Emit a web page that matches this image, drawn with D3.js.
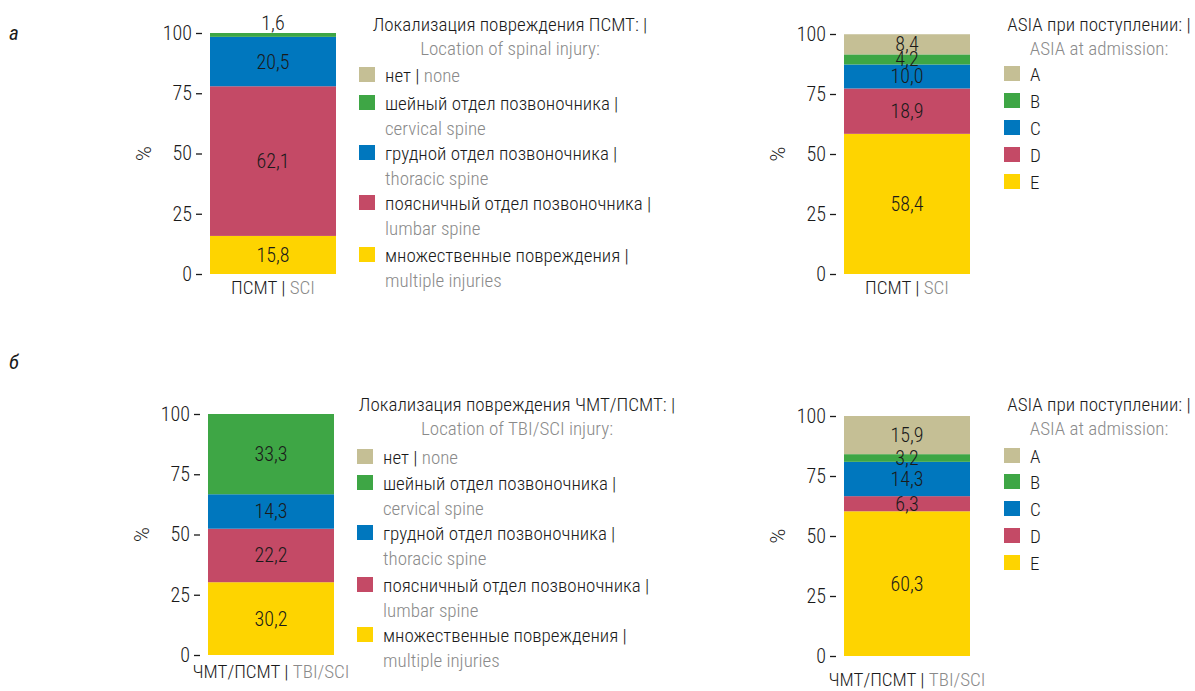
<!DOCTYPE html>
<html lang="ru">
<head>
  <meta charset="UTF-8">
  <title>Stacked bars</title>
  <script src="https://cdn.jsdelivr.net/npm/d3@7"></script>
  <style>
    body { margin: 0; background: #fff; }
    svg { font-family: "Roboto Condensed", "Liberation Sans Narrow", "DejaVu Sans Condensed", sans-serif; font-weight: 300; }
    .tick text { font-size: 20px; fill: #1a1a1a; }
    .tick line { stroke: #1a1a1a; stroke-width: 1.3; }
  </style>
</head>
<body>
<script>
  // Data
  var locRu = ["нет", "шейный отдел позвоночника", "грудной отдел позвоночника", "поясничный отдел позвоночника", "множественные повреждения"];
  var locEn = ["none", "cervical spine", "thoracic spine", "lumbar spine", "multiple injuries"];
  var asiaGrades = ["A", "B", "C", "D", "E"];
  var locSci = [0, 1.6, 20.5, 62.1, 15.8];
  var locTbiSci = [0, 33.3, 14.3, 22.2, 30.2];
  var asiaSci = [8.4, 4.2, 10.0, 18.9, 58.4];
  var asiaTbiSci = [15.9, 3.2, 14.3, 6.3, 60.3];
  var yTicks = [0, 25, 50, 75, 100];

  var colors = ["#c5bf95", "#3ea645", "#0077be", "#c44a66", "#fed400"];
  var ink = "#1a1a1a", grey = "#8a8a8a";
  var fs = "19px";

  var w = 1195, h = 691;
  var svg = d3.select("body").append("svg").attr("width", w).attr("height", h);

  // panel letters
  svg.append("text").attr("x", 9).attr("y", 40).style("font-style", "italic").style("font-weight", 400).style("font-size", "21px").attr("fill", ink).text("а");
  svg.append("text").attr("x", 9).attr("y", 369).style("font-style", "italic").style("font-weight", 400).style("font-size", "21px").attr("fill", ink).text("б");

  function drawBar(p) {
    var g = svg.append("g");
    var y = d3.scaleLinear().domain([0, 100]).range([p.y0, p.y1]);
    var x = d3.scaleBand().domain([p.cat]).range([p.x0, p.x0 + 126]).padding(0);

    // stack bottom-up: last category at bottom
    var order = d3.range(p.values.length).reverse();
    var acc = 0;
    var segs = order.map(function(i) {
      var s = { i: i, v: p.values[i], lo: acc, hi: acc + p.values[i] };
      acc += p.values[i];
      return s;
    }).filter(function(s) { return s.v > 0; });

    g.selectAll("rect").data(segs).enter().append("rect")
      .attr("x", x(p.cat))
      .attr("width", x.bandwidth())
      .attr("y", function(d) { return y(d.hi); })
      .attr("height", function(d) { return y(d.lo) - y(d.hi); })
      .attr("fill", function(d) { return colors[d.i]; });

    g.selectAll("text.val").data(segs).enter().append("text")
      .attr("class", "val")
      .attr("x", x(p.cat) + x.bandwidth() / 2)
      .attr("y", function(d) {
        if (d.v < 2) return y(d.hi) - 10;
        return (y(d.lo) + y(d.hi)) / 2;
      })
      .attr("dy", "0.35em")
      .attr("text-anchor", "middle")
      .style("font-size", "20px")
      .attr("fill", ink)
      .text(function(d) { return d3.format(".1f")(d.v).replace(".", ","); });

    var axis = d3.axisLeft(y).tickValues(yTicks).tickSize(6).tickPadding(4);
    g.append("g")
      .attr("transform", "translate(" + (p.x0 - 8) + ",0)")
      .call(axis)
      .attr("font-family", null)
      .attr("font-size", null)
      .call(function(s) { s.select(".domain").remove(); });

    g.append("text")
      .attr("transform", "translate(" + (p.x0 - 66) + "," + y(50) + ") rotate(-90)")
      .attr("text-anchor", "middle")
      .attr("dy", "0.35em")
      .style("font-size", "20px")
      .style("font-family", "Roboto, sans-serif")
      .attr("fill", ink)
      .text("%");

    var cl = g.append("text")
      .attr("x", p.x0 + 63)
      .attr("y", p.catY)
      .attr("text-anchor", "middle")
      .style("font-size", fs);
    cl.append("tspan").attr("fill", ink).text(p.cat + " | ");
    cl.append("tspan").attr("fill", grey).text(p.catEn);
  }

  function drawLegend(p) {
    var g = svg.append("g");
    g.append("text").attr("x", p.cx).attr("y", p.ty).attr("text-anchor", "middle")
      .style("font-size", fs).attr("fill", ink).text(p.title);
    g.append("text").attr("x", p.cx).attr("y", p.ty + 24).attr("text-anchor", "middle")
      .style("font-size", fs).attr("fill", grey).text(p.titleEn);

    p.rows.forEach(function(r, i) {
      var yy = p.rowY[i];
      g.append("rect").attr("x", p.sx).attr("y", yy - 8).attr("width", 16).attr("height", 15).attr("fill", colors[i]);
      var t = g.append("text").attr("x", p.sx + 26).attr("y", yy).attr("dy", "0.35em").style("font-size", fs);
      if (r.en == null) {
        t.append("tspan").attr("fill", ink).text(r.ru);
      } else if (r.inline) {
        t.append("tspan").attr("fill", ink).text(r.ru + " | ");
        t.append("tspan").attr("fill", grey).text(r.en);
      } else {
        t.append("tspan").attr("fill", ink).text(r.ru + " |");
        g.append("text").attr("x", p.sx + 26).attr("y", yy + 25).attr("dy", "0.35em")
          .style("font-size", fs).attr("fill", grey).text(r.en);
      }
    });
  }

  var locRows = locRu.map(function(ru, i) { return { ru: ru, en: locEn[i], inline: i === 0 }; });
  var asiaRows = asiaGrades.map(function(a) { return { ru: a, en: null }; });

  // panel a
  drawBar({ cat: "ПСМТ", catEn: "SCI", values: locSci, x0: 210, y0: 274, y1: 33, catY: 294 });
  drawLegend({ title: "Локализация повреждения ПСМТ: |", titleEn: "Location of spinal injury:", cx: 510, ty: 31,
    sx: 359, rowY: [75, 103, 153, 203, 255], rows: locRows });
  drawBar({ cat: "ПСМТ", catEn: "SCI", values: asiaSci, x0: 844, y0: 274, y1: 34, catY: 294 });
  drawLegend({ title: "ASIA при поступлении: |", titleEn: "ASIA at admission:", cx: 1099, ty: 31,
    sx: 1004, rowY: [74, 101, 128, 155, 182], rows: asiaRows });

  // panel b
  drawBar({ cat: "ЧМТ/ПСМТ", catEn: "TBI/SCI", values: locTbiSci, x0: 208, y0: 655, y1: 414, catY: 678 });
  drawLegend({ title: "Локализация повреждения ЧМТ/ПСМТ: |", titleEn: "Location of TBI/SCI injury:", cx: 517, ty: 411,
    sx: 357, rowY: [457, 483, 533, 585, 635], rows: locRows });
  drawBar({ cat: "ЧМТ/ПСМТ", catEn: "TBI/SCI", values: asiaTbiSci, x0: 844, y0: 656, y1: 416, catY: 686 });
  drawLegend({ title: "ASIA при поступлении: |", titleEn: "ASIA at admission:", cx: 1099, ty: 411,
    sx: 1004, rowY: [456, 482, 509, 536, 563], rows: asiaRows });
</script>
</body>
</html>
